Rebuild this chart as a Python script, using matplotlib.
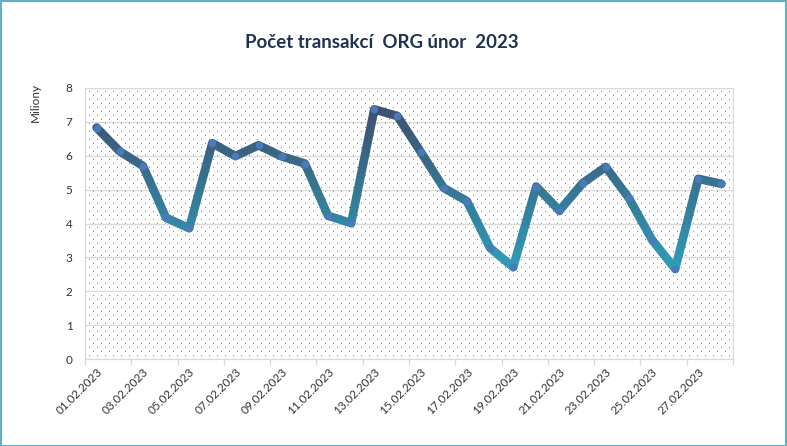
import numpy as np
import matplotlib
matplotlib.use("Agg")
import matplotlib.pyplot as plt
from matplotlib.colors import to_rgb
from matplotlib.patches import Rectangle

plt.rcParams['font.family'] = ['Lato', 'DejaVu Sans']

# ---- data ----
dates = [f"{d:02d}.02.2023" for d in range(1, 29)]
values = [6.83, 6.13, 5.70, 4.17, 3.86, 6.37, 5.99, 6.31, 5.98, 5.77,
          4.23, 4.01, 7.37, 7.17, 6.12, 5.05, 4.66, 3.28, 2.71, 5.09,
          4.38, 5.19, 5.67, 4.75, 3.52, 2.66, 5.32, 5.17]
yticks = [0, 1, 2, 3, 4, 5, 6, 7, 8]
title = "Počet transakcí  ORG únor  2023"
ylabel = "Miliony"

W, H = 787, 446
fig = plt.figure(figsize=(W / 100, H / 100), dpi=100)
fig.patch.set_facecolor('white')

left, right, top, bottom = 85, 733, 88, 359
ax = fig.add_axes([left / W, 1 - bottom / H, (right - left) / W, (bottom - top) / H])
ax.set_facecolor('none')

# dotted background pattern for plot area
pw, ph = right - left, bottom - top
pat = np.ones((ph, pw, 4))
dotc = np.array(to_rgb('#7d8794'))
yy, xx = np.mgrid[0:ph, 0:pw]
rowi = (yy - 3) // 4
mask = ((yy - 3) % 4 == 0) & ((xx - 12 + (rowi % 2) * 4) % 8 == 0)
pat[mask, :3] = dotc
fig.figimage(pat, xo=left, yo=H - bottom, zorder=-1, origin='upper')

x = np.arange(len(values))

top_c = np.array(to_rgb('#3e4f6d'))
bot_c = np.array(to_rgb('#2f9fbb'))


def grad_filter(img, dpi):
    h = img.shape[0]
    t = np.linspace(0, 1, h)[:, None, None]
    rgb = top_c[None, None, :] * (1 - t) + bot_c[None, None, :] * t
    out = img.copy()
    out[..., :3] = np.broadcast_to(rgb, out[..., :3].shape)
    return out, 0, 0


line, = ax.plot(x, values, color='#3a6a8a', lw=6.2, solid_joinstyle='round',
                solid_capstyle='round', zorder=3)
line.set_agg_filter(grad_filter)
ax.plot(x, values, ls='none', marker='o', ms=5.5, mfc='#4a7aba', mec='none',
        zorder=4)

ax.set_xlim(-0.5, len(values) - 0.5)
ax.set_ylim(0, 8)
ax.set_yticks(yticks)
ax.set_yticklabels([str(v) for v in yticks])
ax.grid(axis='y', color='#d9d9d9', lw=0.9, zorder=1)
ax.set_axisbelow(True)

# major ticks at category boundaries every two categories, labels at centres
ax.set_xticks(np.arange(-0.5, len(values), 2))
ax.set_xticklabels([])
ax.set_xticks(x[::2], minor=True)
ax.set_xticklabels(dates[::2], minor=True, rotation=45, ha='right',
                   va='top', rotation_mode='anchor', fontsize=8.5,
                   color='#333333')
ax.tick_params(axis='x', which='major', length=4, color='#d9d9d9', width=0.9)
ax.tick_params(axis='x', which='minor', length=0, pad=5)
ax.tick_params(axis='y', length=0, pad=9, labelsize=8.5, labelcolor='#333333')

for s in ['left', 'right', 'bottom']:
    ax.spines[s].set_color('#d9d9d9')
    ax.spines[s].set_linewidth(0.9)
ax.spines['top'].set_visible(False)

fig.text(35 / W, 1 - 102 / H, ylabel, rotation=90, ha='center', va='center',
         fontsize=8.5, color='#333333')
fig.text(382 / W, 1 - 43 / H, title, ha='center', va='center', fontsize=13.4,
         fontweight='bold', color='#1f3251')

fig.patches.append(Rectangle((0.5 / W, 0.5 / H), 1 - 1.5 / W, 1 - 1.5 / H,
                             transform=fig.transFigure, fill=False,
                             edgecolor='#5eb2c6', lw=1.5, zorder=10))

fig.savefig('out.png', dpi=100)
